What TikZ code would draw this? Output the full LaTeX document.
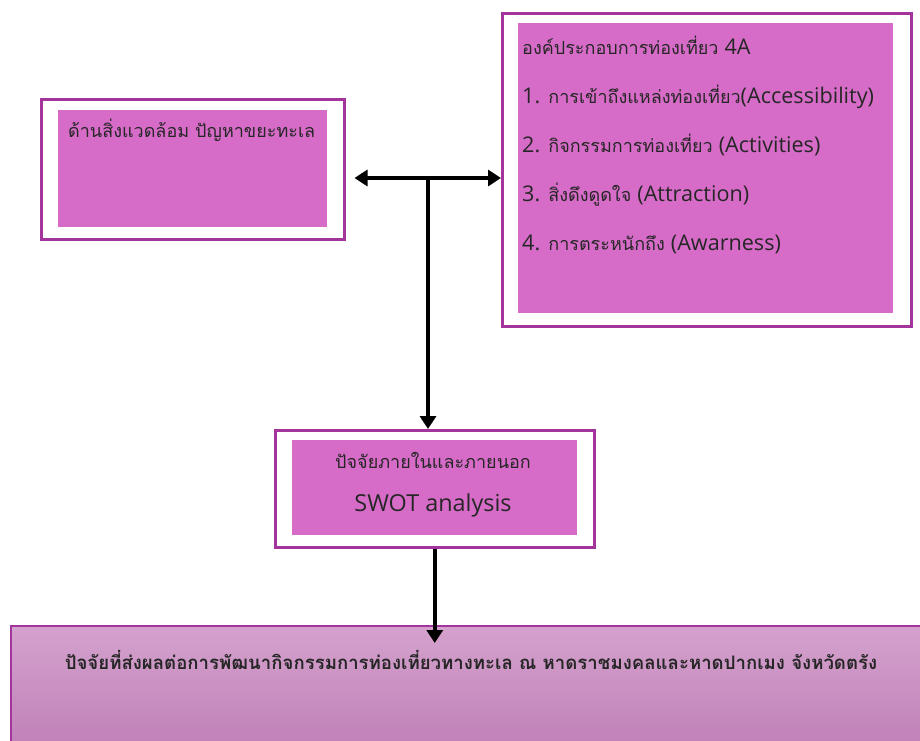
\documentclass[tikz,border=0pt]{standalone}
\usepackage{fontspec}
\setmainfont[Script=Thai]{Loma}
\newfontfamily\latinfont{Open Sans}
\newcommand{\lat}[1]{{\latinfont\addfontfeatures{Scale=1.2}#1}}
\usetikzlibrary{arrows.meta, positioning, calc}
\definecolor{framecolor}{RGB}{163,52,156}
\definecolor{panelcolor}{RGB}{214,108,200}
\definecolor{resulttop}{RGB}{212,162,205}
\definecolor{resultbottom}{RGB}{190,126,182}

\begin{document}
\begin{tikzpicture}[
    x=1pt, y=-1pt,
    frame/.style={rectangle, draw=framecolor, line width=2.5pt, fill=white, anchor=north west, inner sep=0pt},
    panel/.style={rectangle, fill=panelcolor, anchor=north west, inner sep=0pt},
    boxtext/.style={inner sep=0pt, text=black!85, font=\fontsize{17}{20}\selectfont},
    arrow/.style={-{Triangle[length=13pt,width=16pt]}, line width=4pt},
    dblarrow/.style={{Triangle[length=13pt,width=16pt]}-{Triangle[length=13pt,width=16pt]}, line width=4pt}
]
    \useasboundingbox (0,0) rectangle (920,740);

    % Environment (left box)
    \node[frame, minimum width=303pt, minimum height=140pt] (envframe) at (40,98) {};
    \node[panel, minimum width=269pt, minimum height=117pt] (envpanel) at (58,110) {};
    \node[boxtext, anchor=west, font=\fontsize{18}{20}\selectfont] (envtext) at (68,130) {ด้านสิ่งแวดล้อม ปัญหาขยะทะเล};

    % 4A components (right box)
    \node[frame, minimum width=409pt, minimum height=313pt] (attrframe) at (501,12) {};
    \node[panel, minimum width=375pt, minimum height=290pt] (attrpanel) at (518,23) {};
    \node[boxtext, anchor=north west, align=left, font=\fontsize{18}{49}\selectfont] (attrtext) at (522,36) {
        องค์ประกอบการท่องเที่ยว \lat{4A}\\
        \lat{1.} การเข้าถึงแหล่งท่องเที่ยว\lat{(Accessibility)}\\
        \lat{2.} กิจกรรมการท่องเที่ยว \lat{(Activities)}\\
        \lat{3.} สิ่งดึงดูดใจ \lat{(Attraction)}\\
        \lat{4.} การตระหนักถึง \lat{(Awarness)}
    };

    % SWOT (middle box)
    \node[frame, minimum width=319pt, minimum height=117pt] (swotframe) at (274,429) {};
    \node[panel, minimum width=285pt, minimum height=95pt] (swotpanel) at (292,440) {};
    \node[boxtext, font=\fontsize{18}{20}\selectfont] (swottitle) at (433,460) {ปัจจัยภายในและภายนอก};
    \node[boxtext, font=\fontsize{19.5}{24}\selectfont] (swottext) at (433,505) {\lat{SWOT analysis}};

    % Result (bottom box)
    \node[rectangle, draw=framecolor, line width=1.5pt, top color=resulttop, bottom color=resultbottom,
          anchor=north west, minimum width=930pt, minimum height=130pt] (result) at (10,625) {};
    \node[boxtext, font=\bfseries\fontsize{18.6}{20}\selectfont] (resulttext) at (471,660)
        {ปัจจัยที่ส่งผลต่อการพัฒนากิจกรรมการท่องเที่ยวทางทะเล ณ หาดราชมงคลและหาดปากเมง จังหวัดตรัง};

    % Connectors
    \coordinate (fork) at (428,178);
    \draw[dblarrow, shorten <=9pt] (fork -| envframe.east) -- (fork -| attrframe.west);
    \draw[arrow] (fork) -- (fork |- swotframe.north);
    \draw[arrow, shorten >=-18pt] (swotframe.south) -- (swotframe.south |- result.north);

\end{tikzpicture}
\end{document}
